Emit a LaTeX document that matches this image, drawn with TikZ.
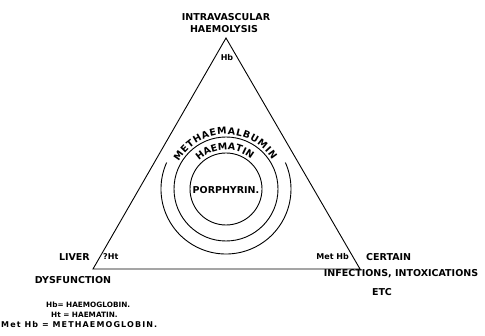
\documentclass[tikz,border=0pt]{standalone}
\usepackage{fontspec}
\setmainfont{DejaVu Sans}
\usetikzlibrary{decorations.text}
\begin{document}
\begin{tikzpicture}[x=1pt,y=1pt,
  lbl/.style={font=\bfseries\fontsize{9.5}{11}\selectfont, inner sep=0pt},
  sml/.style={font=\bfseries\fontsize{8}{9}\selectfont, inner sep=0pt},
  leg/.style={font=\bfseries\fontsize{7.3}{8}\selectfont, inner sep=0pt, anchor=west},
  edge/.style={line width=0.9pt},
  ring/.style={line width=0.9pt}]
\useasboundingbox (0,0) rectangle (485,335);
\coordinate (A) at (226,297);
\coordinate (L) at (93,66);
\coordinate (R) at (360,66);
\coordinate (C) at (226,146);
\draw[edge] (A) -- (L) -- (R) -- cycle;
\draw[ring] (C) circle[radius=36];
\draw[ring] (C) circle[radius=52];
\draw[ring] ([shift={(156:65)}]C) arc[start angle=156,end angle=384,radius=65];
\path[decorate, decoration={text along path, text align={fit to path},
  text format delimiters={|}{|},
  text={|\bfseries\fontsize{9.5}{11}\selectfont|METHAEMALBUMIN}}]
  ([shift={(150:54.5)}]C) arc[start angle=150,end angle=32,radius=54.5];
\path[decorate, decoration={text along path, text align={fit to path},
  text format delimiters={|}{|},
  text={|\bfseries\fontsize{9.5}{11}\selectfont|HAEMATIN}}]
  ([shift={(134:39)}]C) arc[start angle=134,end angle=50,radius=39];
\node[lbl] (por) at (226,145) {PORPHYRIN.};
\node[lbl] (intra) at (226,318) {INTRAVASCULAR};
\node[lbl] (haem) at (224,306) {HAEMOLYSIS};
\node[sml] (hb) at (227,277) {Hb};
\node[lbl, anchor=east] (liver) at (90,78) {LIVER};
\node[sml, anchor=west] (ht) at (103,78) {?Ht};
\node[lbl] (dys) at (73,55) {DYSFUNCTION};
\node[sml, anchor=east] (methb) at (349,78) {Met Hb};
\node[lbl, anchor=west] (cert) at (366,78) {CERTAIN};
\node[lbl] (inf) at (401,61) {INFECTIONS, INTOXICATIONS};
\node[lbl] (etc) at (382,43) {ETC};
\node[leg] (l1) at (46,30) {Hb= HAEMOGLOBIN.};
\node[leg] (l2) at (51,20) {Ht = HAEMATIN.};
\node[leg, font=\bfseries\fontsize{8}{9}\selectfont] (l3) at (1,10) {\addfontfeature{LetterSpace=14}Met Hb = METHAEMOGLOBIN.};
\end{tikzpicture}
\end{document}
